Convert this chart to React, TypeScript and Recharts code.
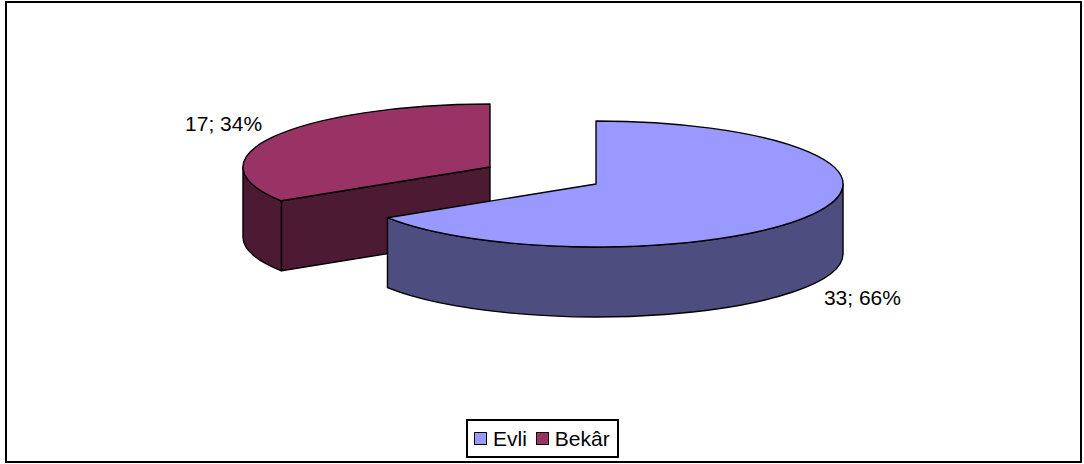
import { Legend, Pie, PieChart } from "recharts";

const categories = ["Evli", "Bekâr"];
const counts = [33, 17];
const topColors = ["#9999FF", "#993366"];
const wallColors = ["#4D4D80", "#4D1A33"];

// drawn back to front: Evli has to paint over Bekâr's cut face
const table = categories
  .map((name, i) => ({ name, value: counts[i], fill: topColors[i], wall: wallColors[i] }))
  .reverse();

const total = counts.reduce((a, b) => a + b, 0);
const startAngle = 90 + (360 * counts[1]) / total;

const TILT = 63 / 247;
const DEPTH = 70;
const EXPLODE = 60.5;
const EXPLODE_TILT = 0.29;
const FONT = "'Liberation Sans', Arial, sans-serif";

const rad = (deg: number) => (deg * Math.PI) / 180;

function slicePath(p: any) {
  const mid = (p.startAngle + p.endAngle) / 2;
  return {
    cx: p.cx + EXPLODE * Math.cos(rad(mid)),
    cy: p.cy - EXPLODE * EXPLODE_TILT * Math.sin(rad(mid)),
    rx: p.outerRadius,
    ry: p.outerRadius * TILT,
    hi: Math.max(p.startAngle, p.endAngle),
    lo: Math.min(p.startAngle, p.endAngle),
  };
}

function Slice3D(props: any) {
  const { cx, cy, rx, ry, hi, lo } = slicePath(props);
  const at = (a: number, dy = 0) => `${cx + rx * Math.cos(rad(a))} ${cy - ry * Math.sin(rad(a)) + dy}`;
  const stroke = { stroke: "#000", strokeWidth: 1.4, strokeLinejoin: "round" as const };
  const large = hi - lo > 180 ? 1 : 0;

  // the part of the rim that faces the viewer (lower half of the ellipse)
  let rim: [number, number] | null = null;
  for (const shift of [0, 360]) {
    const a = Math.min(hi, shift);
    const b = Math.max(lo, shift - 180);
    if (a > b) rim = [a, b];
  }
  const faces: number[] = [];
  if (Math.cos(rad(hi)) < -0.001) faces.push(hi);
  if (Math.cos(rad(lo)) > 0.001) faces.push(lo);

  return (
    <g>
      {faces.map((a) => (
        <path
          key={a}
          d={`M${cx} ${cy}L${at(a)}L${at(a, DEPTH)}L${cx} ${cy + DEPTH}Z`}
          fill={props.wall}
          {...stroke}
        />
      ))}
      {rim && (
        <path
          d={`M${at(rim[0])}A${rx} ${ry} 0 0 1 ${at(rim[1])}L${at(rim[1], DEPTH)}A${rx} ${ry} 0 0 0 ${at(rim[0], DEPTH)}Z`}
          fill={props.wall}
          {...stroke}
        />
      )}
      <path d={`M${cx} ${cy}L${at(hi)}A${rx} ${ry} 0 ${large} 1 ${at(lo)}Z`} fill={props.fill} {...stroke} />
    </g>
  );
}

function SliceLabel(props: any) {
  const { cx, cy, rx, ry } = slicePath(props);
  const c = Math.cos(rad(props.midAngle));
  const s = Math.sin(rad(props.midAngle));
  const x = cx + (rx + 57) * c;
  const y = cy - (ry + 27) * s + (s < 0 ? DEPTH : 0);
  return (
    <text x={x} y={y} textAnchor="middle" dominantBaseline="central" fontFamily={FONT} fontSize={21} fill="#000">
      {`${props.value}; ${Math.round((props.value / total) * 100)}%`}
    </text>
  );
}

function ChartLegend({ payload }: any) {
  const items = [...(payload ?? [])].reverse();
  return (
    <div
      style={{
        display: "flex",
        alignItems: "center",
        boxSizing: "border-box",
        width: 153,
        height: 39,
        paddingLeft: 6,
        border: "2px solid #000",
        background: "#fff",
        fontFamily: FONT,
        fontSize: 21,
        color: "#000",
      }}
    >
      {items.map((it: any) => (
        <span key={it.value} style={{ display: "flex", alignItems: "center", marginRight: 9 }}>
          <span
            style={{
              boxSizing: "border-box",
              width: 13,
              height: 13,
              marginRight: 6,
              border: "1.5px solid #000",
              background: it.color,
            }}
          />
          {it.value}
        </span>
      ))}
    </div>
  );
}

export default function App() {
  return (
    <div style={{ position: "relative", width: 1084, height: 464, overflow: "hidden" }}>
      <style>{"body{margin:0}"}</style>
      <div
        style={{
          position: "absolute",
          left: 5,
          top: 1,
          width: 1077,
          height: 462,
          boxSizing: "border-box",
          border: "2px solid #000",
        }}
      />
      <PieChart width={1084} height={464} margin={{ top: 0, right: 0, bottom: 0, left: 0 }}>
        <Pie
          data={table}
          dataKey="value"
          nameKey="name"
          cx={543}
          cy={175.5}
          innerRadius={0}
          outerRadius={247}
          startAngle={startAngle}
          endAngle={startAngle - 360}
          paddingAngle={0}
          stroke="none"
          shape={Slice3D}
          label={SliceLabel}
          labelLine={false}
          isAnimationActive={false}
        />
        <Legend
          content={ChartLegend}
          layout="horizontal"
          verticalAlign="bottom"
          wrapperStyle={{ left: 466, top: 419, bottom: "auto", width: 153 }}
        />
      </PieChart>
    </div>
  );
}
